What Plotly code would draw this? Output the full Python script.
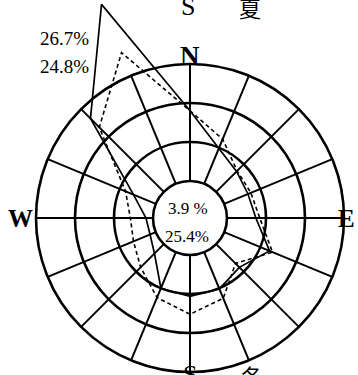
import numpy as np
import plotly.graph_objects as go

# 16 wind directions, clockwise from north
directions = ["N", "NNE", "NE", "ENE", "E", "ESE", "SE", "SSE",
              "S", "SSW", "SW", "WSW", "W", "WNW", "NW", "NNW"]
# wind frequency (%)
summer = [9.0, 4.9, 3.7, 3.3, 3.7, 6.3, 4.2, 5.1, 5.3, 5.0, 1.7, 0.8, 0.9, 3.1, 13.3, 24.9]   # solid
winter = [9.0, 6.2, 3.8, 3.7, 4.2, 6.7, 3.5, 6.4, 7.6, 6.3, 4.2, 3.1, 2.9, 4.2, 11.7, 18.2]   # dashed
ring_values = [0, 5, 10, 15]
calm_labels = ["3.9 %", "25.4%"]
max_labels = ["26.7%", "24.8%"]
compass = ["N", "E", "W"]

R0 = 37.0    # calm-circle radius (px units)
K = 7.8      # px per percent

ang = np.deg2rad(np.arange(len(directions)) * 22.5)


def to_xy(vals):
    r = R0 + np.asarray(vals, dtype=float) * K
    x = r * np.sin(ang)
    y = r * np.cos(ang)
    return np.append(x, x[0]), np.append(y, y[0])


fig = go.Figure()

# spokes
r_in = R0 + ring_values[0] * K
r_out = R0 + ring_values[-1] * K
sx, sy = [], []
for a in ang:
    sx += [r_in * np.sin(a), r_out * np.sin(a), None]
    sy += [r_in * np.cos(a), r_out * np.cos(a), None]
fig.add_trace(go.Scatter(x=sx, y=sy, mode="lines",
                         line=dict(color="black", width=2), hoverinfo="skip"))

# rings
shapes = []
for rv in ring_values:
    rr = R0 + rv * K
    shapes.append(dict(type="circle", xref="x", yref="y",
                       x0=-rr, y0=-rr, x1=rr, y1=rr,
                       line=dict(color="black", width=2.6)))

xs, ys = to_xy(summer)
fig.add_trace(go.Scatter(x=xs, y=ys, mode="lines",
                         line=dict(color="black", width=1.7), hoverinfo="skip"))
xw, yw = to_xy(winter)
fig.add_trace(go.Scatter(x=xw, y=yw, mode="lines",
                         line=dict(color="black", width=1.6, dash="4px,3px"),
                         hoverinfo="skip"))

serif = "Liberation Serif"
ann = []
ann.append(dict(x=-126, y=179.5, text=max_labels[0], font=dict(size=19, family=serif)))
ann.append(dict(x=-126, y=151.5, text=max_labels[1], font=dict(size=19, family=serif)))
ann.append(dict(x=-2, y=10, text=calm_labels[0], font=dict(size=17, family=serif)))
ann.append(dict(x=-3, y=-18, text=calm_labels[1], font=dict(size=17, family=serif)))
ann.append(dict(x=0, y=162, text="<b>%s</b>" % compass[0], font=dict(size=27, family=serif)))
ann.append(dict(x=156, y=0, text="<b>%s</b>" % compass[1], font=dict(size=25, family=serif)))
ann.append(dict(x=-169.5, y=0, text="<b>%s</b>" % compass[2], font=dict(size=25, family=serif)))
ann.append(dict(x=-2, y=212, text="S", font=dict(size=26, family=serif)))
ann.append(dict(x=60, y=211, text="夏", font=dict(size=22, family="Noto Sans CJK JP")))
ann.append(dict(x=0, y=-156, text="S", font=dict(size=26, family=serif)))
ann.append(dict(x=62, y=-157, text="冬", font=dict(size=22, family="Noto Sans CJK JP")))
for a in ann:
    a.update(xref="x", yref="y", showarrow=False, xanchor="center", yanchor="middle")
    a["font"]["color"] = "black"

fig.update_layout(
    width=358, height=375,
    margin=dict(l=0, r=0, t=0, b=0),
    paper_bgcolor="white", plot_bgcolor="white",
    showlegend=False,
    shapes=shapes,
    annotations=ann,
    xaxis=dict(range=[-190, 168], visible=False, fixedrange=True),
    yaxis=dict(range=[-157, 218], visible=False, fixedrange=True),
)

fig.write_html("out.html",
               config={"displayModeBar": False},
               post_script="document.body.style.margin='0';document.body.style.overflow='hidden';")
